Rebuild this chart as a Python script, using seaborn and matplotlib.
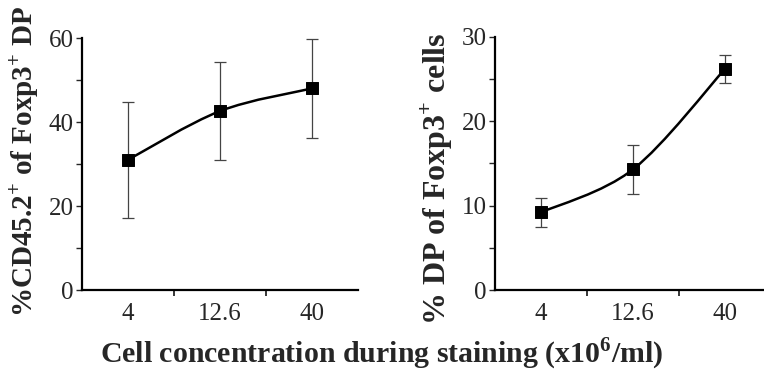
import numpy as np
import pandas as pd
import seaborn as sns
import matplotlib.pyplot as plt
from matplotlib.path import Path
from matplotlib.patches import PathPatch
from matplotlib.ticker import MultipleLocator, FixedLocator

# Data
concentrations = ['4', '12.6', '40']
cd45_mean = [31.0, 42.6, 48.0]
cd45_err = [13.8, 11.6, 11.7]
dp_mean = [9.2, 14.3, 26.2]
dp_err = [1.7, 2.9, 1.7]

sns.set_style('ticks')
plt.rcParams['font.family'] = ['Liberation Serif', 'DejaVu Serif']
plt.rcParams['mathtext.fontset'] = 'custom'
plt.rcParams['mathtext.rm'] = 'Liberation Serif'
plt.rcParams['mathtext.bf'] = 'Liberation Serif:bold'


def smooth_path(xs, ys):
    # Excel-style smoothed line: cubic Bezier segments with Catmull-Rom control points
    pts = np.column_stack([xs, ys]).astype(float)
    n = len(pts)
    verts = [pts[0]]
    codes = [Path.MOVETO]
    for i in range(n - 1):
        p_prev = pts[max(i - 1, 0)]
        p0, p1 = pts[i], pts[i + 1]
        p_next = pts[min(i + 2, n - 1)]
        c1 = p0 + (p1 - p_prev) / 6.0
        c2 = p1 - (p_next - p0) / 6.0
        verts += [c1, c2, p1]
        codes += [Path.CURVE4] * 3
    return Path(verts, codes)


def panel(ax, mean, err, ymax, ystep, ylabel, label_size, label_xy):
    pos = np.arange(len(concentrations))
    df = pd.DataFrame({'pos': pos, 'value': mean})
    ax.errorbar(pos, mean, yerr=err, fmt='none', ecolor='#444444',
                elinewidth=0.9, capsize=4, capthick=0.9, zorder=2)
    ax.add_patch(PathPatch(smooth_path(pos, mean), facecolor='none',
                           edgecolor='black', lw=1.8, zorder=3))
    sns.scatterplot(data=df, x='pos', y='value', marker='s', s=75,
                    color='black', edgecolor='black', ax=ax, zorder=4)
    ax.set_xlim(-0.5, 2.5)
    ax.set_ylim(0, ymax)
    ax.set_xticks(pos)
    ax.set_xticklabels(concentrations)
    ax.xaxis.set_minor_locator(FixedLocator([0.5, 1.5]))
    ax.yaxis.set_major_locator(MultipleLocator(ystep))
    ax.yaxis.set_minor_locator(MultipleLocator(ystep / 2))
    ax.tick_params(axis='x', which='major', length=0, pad=9, labelsize=18)
    ax.tick_params(axis='x', which='minor', length=4, width=1.3, direction='out')
    ax.tick_params(axis='y', which='both', length=4, width=1.0, direction='out',
                   labelsize=18, pad=2)
    ax.set_xlabel('')
    ax.set_ylabel(ylabel, fontsize=label_size, fontweight='bold')
    ax.yaxis.set_label_coords(*label_xy)
    for side in ['top', 'right']:
        ax.spines[side].set_visible(False)
    for side in ['left', 'bottom']:
        ax.spines[side].set_linewidth(1.6)
        ax.spines[side].set_color('black')


fig = plt.figure(figsize=(7.64, 3.76), dpi=100)
ax1 = fig.add_axes([0.1073, 0.2287, 0.361, 0.670])
ax2 = fig.add_axes([0.648, 0.2287, 0.361, 0.673])

panel(ax1, cd45_mean, cd45_err, 60, 20,
      r'%CD45.2$^{\mathbf{+}}$ of Foxp3$^{\mathbf{+}}$ DP', 21, (-0.15, 0.51))
panel(ax2, dp_mean, dp_err, 30, 10,
      r'% DP of Foxp3$^{\mathbf{+}}$ cells', 23, (-0.145, 0.44))

fig.text(0.5, 0.058, r'Cell concentration during staining (x10$^{\mathbf{6}}$/ml)',
         ha='center', va='center', fontsize=21.5, fontweight='bold')

fig.savefig('out.png', dpi=100)
